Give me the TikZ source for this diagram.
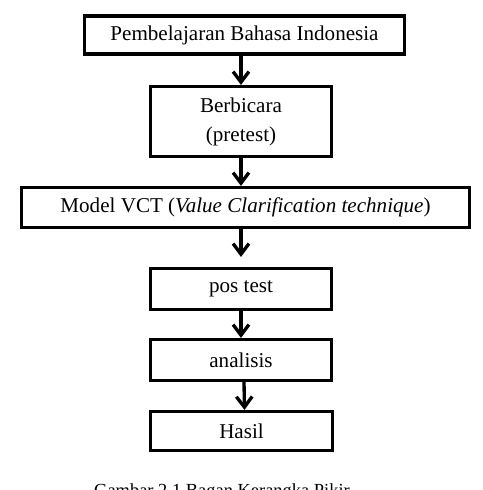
\documentclass[tikz,border=0pt]{standalone}
\usepackage{fontspec}
\setmainfont{Liberation Serif}
\usepackage{tikz}
\usetikzlibrary{arrows.meta,calc}

\begin{document}
\begin{tikzpicture}[x=0.02cm,y=-0.02cm,
    font=\fontsize{12}{16.5}\selectfont,
    kotak/.style={draw,line width=1.8pt,inner sep=0pt,align=center},
    panah/.style={-{Straight Barb[length=6pt,width=9pt,line width=1.9pt]},line width=1.9pt}]
  \useasboundingbox (0,0) rectangle (483,490);
  \node[kotak,minimum width=6.4cm,minimum height=0.76cm] (pbi) at (244.5,35) {Pembelajaran Bahasa Indonesia};
  \node[kotak,minimum width=3.62cm,minimum height=1.4cm] (bicara) at (241,121.5) {Berbicara\\(pretest)};
  \node[kotak,minimum width=8.96cm,minimum height=0.8cm] (vct) at (245.5,207.5) {Model VCT (\textit{Value Clarification technique})};
  \node[kotak,minimum width=3.62cm,minimum height=0.82cm] (pos) at (241,289) {pos test};
  \node[kotak,minimum width=3.62cm,minimum height=0.82cm] (analisis) at (241,360) {analisis};
  \node[kotak,minimum width=3.64cm,minimum height=0.78cm] (hasil) at (241.5,431) {Hasil};
  \node[anchor=base,font=\fontsize{10.5}{12}\selectfont] (judul) at (222,496) {Gambar 2.1 Bagan Kerangka Pikir};
  \draw[panah] (pbi.south -| bicara.north) -- (bicara.north);
  \draw[panah] (bicara.south) -- (bicara.south |- vct.north);
  \draw[panah,shorten >=0.2cm] (vct.south -| pos.north) -- (pos.north);
  \draw[panah] (pos.south) -- (analisis.north);
  \draw[panah] ([xshift=0.06cm]analisis.south) -- ([xshift=0.06cm]hasil.north);
\end{tikzpicture}
\end{document}
